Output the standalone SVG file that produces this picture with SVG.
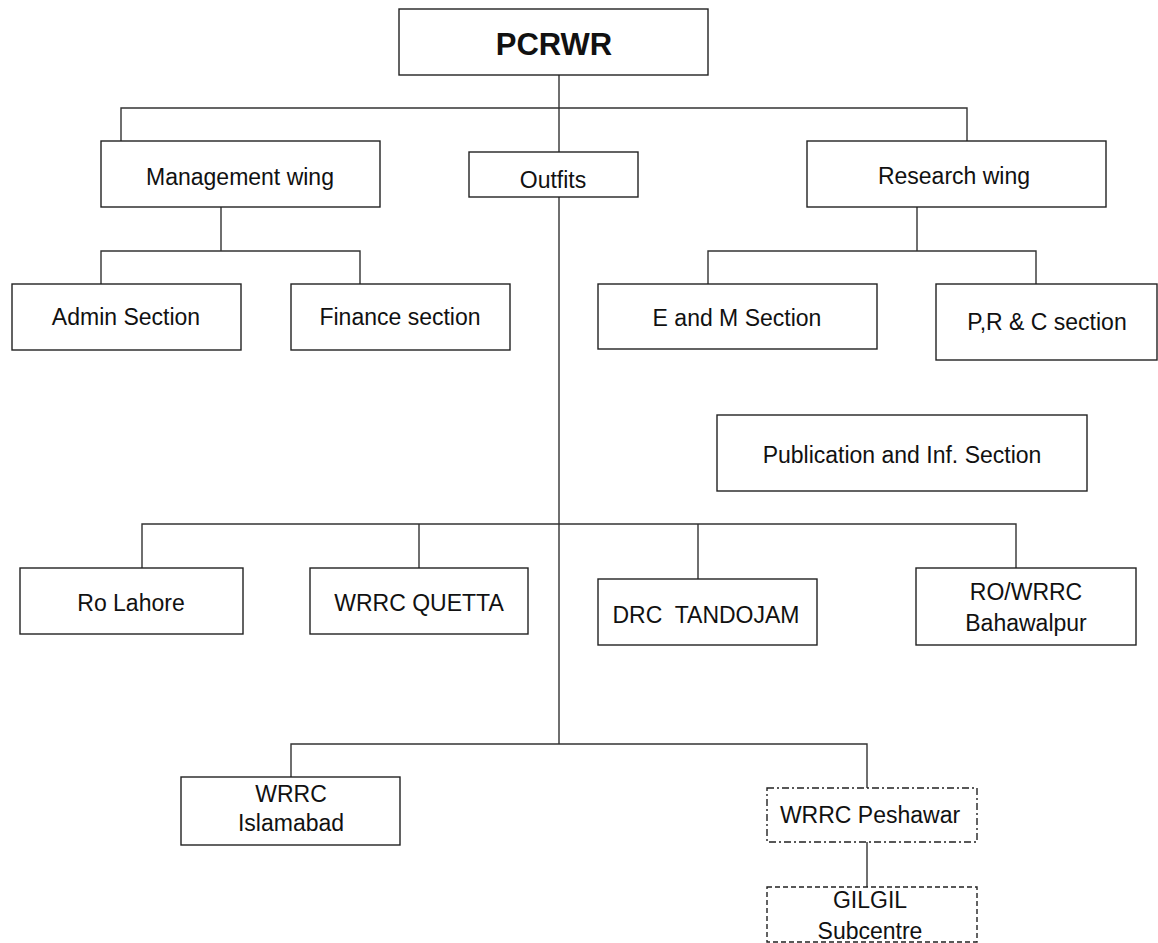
<svg xmlns="http://www.w3.org/2000/svg" width="1158" height="943" viewBox="0 0 1158 943">
<style>
.box{fill:#fff;stroke:#222;stroke-width:1.4}
.dd{stroke-dasharray:7 3 2 3}
.ds{stroke-dasharray:5 3}
.t{font-family:"Liberation Sans",Arial,sans-serif;font-size:23px;fill:#111;text-anchor:middle}
.b{font-weight:bold;font-size:31px}
.c{fill:none;stroke:#333;stroke-width:1.4}
</style>
<rect width="1158" height="943" fill="#fff"/>
<g id="connectors">
<path class="c" d="M559 75V152M121 141V108H967V141"/>
<path class="c" d="M221 207V251M101 284V251H360V284"/>
<path class="c" d="M917 207V251M708 284V251H1036V284"/>
<path class="c" d="M559 197V744M142 568V524H1016V568M419 524V568M698 524V579"/>
<path class="c" d="M291 777V744H867V788M867 842V887"/>
</g>
<g id="pcrwr"><rect class="box" x="399" y="9" width="309" height="66"/><text class="t b" x="554" y="55">PCRWR</text></g>
<g id="management"><rect class="box" x="101" y="141" width="279" height="66"/><text class="t" x="240" y="185">Management wing</text></g>
<g id="outfits"><rect class="box" x="469" y="152" width="169" height="45"/><text class="t" x="553" y="188">Outfits</text></g>
<g id="research"><rect class="box" x="807" y="141" width="299" height="66"/><text class="t" x="954" y="184">Research wing</text></g>
<g id="admin"><rect class="box" x="12" y="284" width="229" height="66"/><text class="t" x="126" y="325">Admin Section</text></g>
<g id="finance"><rect class="box" x="291" y="284" width="219" height="66"/><text class="t" x="400" y="325">Finance section</text></g>
<g id="em"><rect class="box" x="598" y="284" width="279" height="65"/><text class="t" x="737" y="326">E and M Section</text></g>
<g id="prc"><rect class="box" x="936" y="284" width="221" height="76"/><text class="t" x="1047" y="330">P,R &amp; C section</text></g>
<g id="publication"><rect class="box" x="717" y="415" width="370" height="76"/><text class="t" x="902" y="463">Publication and Inf. Section</text></g>
<g id="lahore"><rect class="box" x="20" y="568" width="223" height="66"/><text class="t" x="131" y="611">Ro Lahore</text></g>
<g id="quetta"><rect class="box" x="310" y="568" width="218" height="66"/><text class="t" x="419" y="611">WRRC QUETTA</text></g>
<g id="tandojam"><rect class="box" x="598" y="579" width="219" height="66"/><text class="t" x="706" y="623" xml:space="preserve">DRC  TANDOJAM</text></g>
<g id="bahawalpur"><rect class="box" x="916" y="568" width="220" height="77"/><text class="t" x="1026" y="600">RO/WRRC</text><text class="t" x="1026" y="631">Bahawalpur</text></g>
<g id="islamabad"><rect class="box" x="181" y="777" width="219" height="68"/><text class="t" x="291" y="802">WRRC</text><text class="t" x="291" y="831">Islamabad</text></g>
<g id="peshawar"><rect class="box dd" x="767" y="788" width="210" height="54"/><text class="t" x="870" y="823">WRRC Peshawar</text></g>
<g id="gilgil"><rect class="box ds" x="767" y="887" width="210" height="55"/><text class="t" x="870" y="908">GILGIL</text><text class="t" x="870" y="939">Subcentre</text></g>
</svg>
